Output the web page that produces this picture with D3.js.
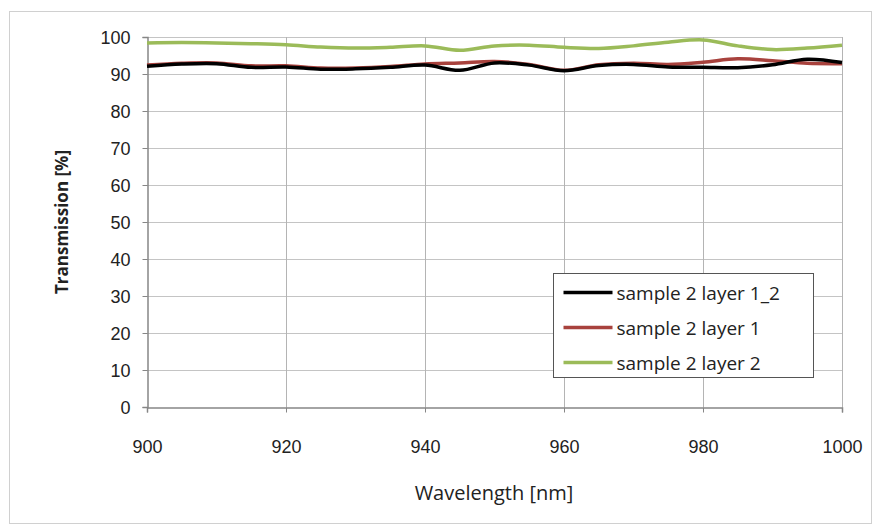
<!doctype html>
<html lang="en">
<head>
<meta charset="utf-8">
<title>Transmission vs wavelength</title>
<style>
  body { margin: 0; background: #fff; }
  svg { display: block; font-family: "Open Sans", "Noto Sans", sans-serif; }
  .tick text { font-size: 18px; fill: #222; }
</style>
</head>
<body>
<div id="chart"></div>
<script src="https://cdn.jsdelivr.net/npm/d3@7"></script>
<script>
// values (every 5 nm)
const wavelengths = [900, 905, 910, 915, 920, 925, 930, 935, 940, 945, 950, 955, 960, 965, 970, 975, 980, 985, 990, 995, 1000];
const layer12 = [92.1, 92.7, 92.8, 91.8, 91.9, 91.3, 91.4, 91.8, 92.4, 91.0, 93.0, 92.4, 90.9, 92.3, 92.6, 91.9, 91.8, 91.7, 92.5, 94.0, 93.1];
const layer1 = [92.4, 92.9, 93.0, 92.2, 92.2, 91.6, 91.6, 92.0, 92.7, 93.0, 93.4, 92.6, 91.0, 92.5, 92.9, 92.6, 93.2, 94.1, 93.6, 92.9, 92.8];
const layer2 = [98.4, 98.5, 98.4, 98.2, 97.9, 97.3, 97.0, 97.2, 97.6, 96.4, 97.6, 97.8, 97.2, 96.9, 97.6, 98.6, 99.2, 97.6, 96.6, 97.0, 97.8];
const seriesNames = ["sample 2 layer 1_2", "sample 2 layer 1", "sample 2 layer 2"];
const seriesColors = ["#000000", "#a8423d", "#9bbb59"];
const xTicks = [900, 920, 940, 960, 980, 1000];
const yTicks = [0, 10, 20, 30, 40, 50, 60, 70, 80, 90, 100];

const W = 876, H = 530;
const plot = { left: 147, right: 842, top: 37, bottom: 407 };

const svg = d3.select("#chart").append("svg").attr("width", W).attr("height", H);

// outer chart frame
svg.append("rect").attr("x", 9.5).attr("y", 11.5).attr("width", 862).attr("height", 512)
  .attr("fill", "#fff").attr("stroke", "#d0d0d0");

const x = d3.scaleLinear().domain([900, 1000]).range([plot.left, plot.right]);
const y = d3.scaleLinear().domain([0, 100]).range([plot.bottom, plot.top]);

// gridlines
svg.append("g").selectAll("line").data(yTicks.filter(d => d > 0)).join("line")
  .attr("x1", plot.left).attr("x2", plot.right)
  .attr("y1", d => Math.round(y(d)) + 0.5).attr("y2", d => Math.round(y(d)) + 0.5)
  .attr("stroke", "#c4c4c4");
svg.append("g").selectAll("line").data(xTicks.filter(d => d > 900)).join("line")
  .attr("x1", d => Math.round(x(d)) + 0.5).attr("x2", d => Math.round(x(d)) + 0.5)
  .attr("y1", plot.top).attr("y2", plot.bottom)
  .attr("stroke", "#b4b4b4");

// axes
const yAxis = svg.append("g").attr("transform", `translate(${plot.left + 0.5},0)`)
  .call(d3.axisLeft(y).tickValues(yTicks).tickSize(5).tickPadding(12));
yAxis.selectAll(".tick text").attr("dy", "0.36em");
const xAxis = svg.append("g").attr("transform", `translate(0,${plot.bottom + 0.5})`)
  .call(d3.axisBottom(x).tickValues(xTicks).tickFormat(d3.format("d")).tickSize(5));
xAxis.selectAll(".tick text").attr("y", 45).attr("dy", 0);
[yAxis, xAxis].forEach(a => {
  a.select(".domain").attr("stroke", "#868686").attr("stroke-width", 1.5);
  a.selectAll(".tick line").attr("stroke", "#868686");
});

// series
const allSeries = [layer12, layer1, layer2];
const line = d3.line().x((d, i) => x(wavelengths[i])).y(d => y(d)).curve(d3.curveCatmullRom);
[2, 1, 0].forEach(k => {
  svg.append("path").datum(allSeries[k]).attr("d", line)
    .attr("fill", "none").attr("stroke", seriesColors[k]).attr("stroke-width", 3.5)
    .attr("stroke-linejoin", "round");
});

// axis titles
svg.append("text").attr("transform", "translate(68,222) rotate(-90)")
  .attr("text-anchor", "middle").attr("font-size", 17).attr("font-weight", "bold").attr("fill", "#222")
  .text("Transmission [%]");
svg.append("text").attr("x", 494).attr("y", 500)
  .attr("text-anchor", "middle").attr("font-size", 20).attr("fill", "#222")
  .text("Wavelength [nm]");

// legend
const lg = svg.append("g").attr("transform", "translate(553.5,273.5)");
lg.append("rect").attr("width", 260).attr("height", 104).attr("fill", "#fff").attr("stroke", "#555");
seriesNames.forEach((name, i) => {
  const cy = 19 + i * 35;
  lg.append("line").attr("x1", 10).attr("x2", 59).attr("y1", cy).attr("y2", cy)
    .attr("stroke", seriesColors[i]).attr("stroke-width", 3.5);
  lg.append("text").attr("x", 63).attr("y", cy + 7).attr("font-size", 19).attr("fill", "#222").text(name);
});
</script>
</body>
</html>
